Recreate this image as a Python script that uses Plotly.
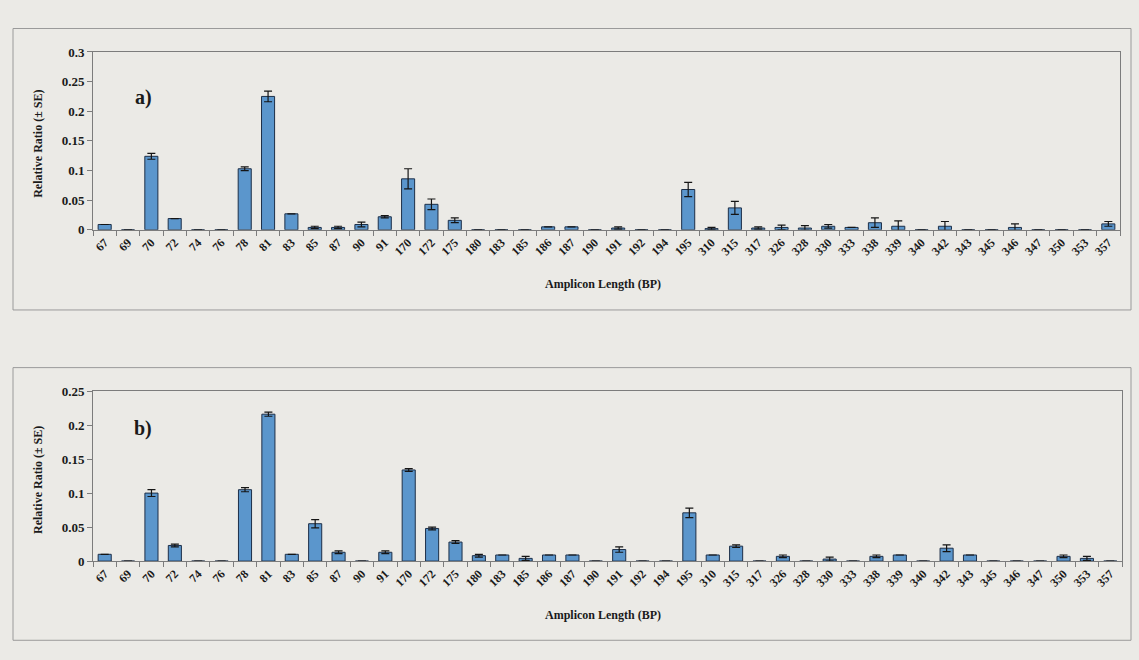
import plotly.graph_objects as go

categories = ["67", "69", "70", "72", "74", "76", "78", "81", "83", "85", "87", "90", "91",
              "170", "172", "175", "180", "183", "185", "186", "187", "190", "191", "192",
              "194", "195", "310", "315", "317", "326", "328", "330", "333", "338", "339",
              "340", "342", "343", "345", "346", "347", "350", "353", "357"]

ratio_a = [0.009, 0, 0.124, 0.019, 0, 0, 0.103, 0.225, 0.027, 0.004, 0.004, 0.009, 0.022,
           0.086, 0.043, 0.016, 0, 0, 0, 0.005, 0.005, 0, 0.003, 0,
           0, 0.068, 0.002, 0.037, 0.003, 0.004, 0.003, 0.006, 0.004, 0.012, 0.006,
           0, 0.006, 0, 0, 0.004, 0, 0, 0, 0.010]
se_a = [0, 0, 0.005, 0, 0, 0, 0.003, 0.009, 0, 0.002, 0.002, 0.004, 0.002,
        0.017, 0.009, 0.004, 0, 0, 0, 0, 0, 0, 0.002, 0,
        0, 0.012, 0.002, 0.011, 0.002, 0.004, 0.004, 0.003, 0, 0.008, 0.009,
        0, 0.008, 0, 0, 0.006, 0, 0, 0, 0.004]

ratio_b = [0.010, 0, 0.100, 0.023, 0, 0, 0.105, 0.216, 0.010, 0.055, 0.013, 0, 0.013,
           0.134, 0.048, 0.028, 0.008, 0.009, 0.004, 0.009, 0.009, 0, 0.017, 0,
           0, 0.071, 0.009, 0.022, 0, 0.007, 0, 0.003, 0, 0.007, 0.009,
           0, 0.019, 0.009, 0, 0, 0, 0.007, 0.004, 0]
se_b = [0, 0, 0.005, 0.002, 0, 0, 0.003, 0.003, 0, 0.006, 0.002, 0, 0.002,
        0.002, 0.002, 0.002, 0.002, 0, 0.003, 0, 0, 0, 0.004, 0,
        0, 0.007, 0, 0.002, 0, 0.002, 0, 0.003, 0, 0.002, 0,
        0, 0.005, 0, 0, 0, 0, 0.002, 0.003, 0]

y_ticks_a = [0, 0.05, 0.1, 0.15, 0.2, 0.25, 0.3]
y_labels_a = ["0", "0.05", "0.1", "0.15", "0.2", "0.25", "0.3"]
y_ticks_b = [0, 0.05, 0.1, 0.15, 0.2, 0.25]
y_labels_b = ["0", "0.05", "0.1", "0.15", "0.2", "0.25"]

FONT = "Liberation Serif"
BG = "#ebeae6"
BAR = "#5b96cc"
BAR_LINE = "#1d2f48"
AXIS = "#7c7c7c"

W, H = 1139, 660


def px(x):
    return x / W


def py(y):
    return 1 - y / H


fig = go.Figure()

for vals, se, xa, ya in [(ratio_a, se_a, "x", "y"), (ratio_b, se_b, "x2", "y2")]:
    fig.add_trace(go.Bar(
        x=categories, y=vals, xaxis=xa, yaxis=ya,
        marker=dict(color=BAR, line=dict(color=BAR_LINE, width=1)),
        error_y=dict(type="data", array=se, visible=True, color="#151515",
                     thickness=1.2, width=4),
        showlegend=False,
    ))

xtick_font = dict(family=FONT, size=12, color="#1a1a1a", weight="bold")
ytick_font = dict(family=FONT, size=13, color="#1a1a1a", weight="bold")

xcommon = dict(type="category", categoryorder="array", categoryarray=categories,
               tickangle=-45, tickfont=xtick_font, showline=True, linecolor=AXIS,
               linewidth=1, mirror=True, ticks="outside", tickson="boundaries",
               ticklen=5, tickcolor=AXIS, showgrid=False, zeroline=False)
ycommon = dict(showline=True, linecolor=AXIS, linewidth=1, mirror=True,
               ticks="outside", ticklen=5, tickcolor=AXIS, showgrid=False,
               zeroline=False, tickfont=ytick_font)

fig.update_layout(
    width=W, height=H,
    margin=dict(l=0, r=0, t=0, b=0),
    paper_bgcolor=BG, plot_bgcolor=BG,
    bargap=0.44,
    xaxis=dict(domain=[px(93), px(1120)], anchor="y", **xcommon),
    yaxis=dict(domain=[py(228), py(46)], anchor="x", range=[0, 0.3],
               tickvals=y_ticks_a, ticktext=y_labels_a, **ycommon),
    xaxis2=dict(domain=[px(93), px(1122)], anchor="y2", **xcommon),
    yaxis2=dict(domain=[py(567), py(393)], anchor="x2", range=[0, 0.25],
                tickvals=y_ticks_b, ticktext=y_labels_b, **ycommon),
)

# Outer chart-area frames
for y0, y1 in [(22, 310), (369, 648)]:
    fig.add_shape(type="rect", xref="paper", yref="paper",
                  x0=px(13), x1=px(1131), y0=py(y1), y1=py(y0),
                  line=dict(color="#9a9a9a", width=1), fillcolor="rgba(0,0,0,0)",
                  layer="below")

title_font = dict(family=FONT, size=12, color="#1a1a1a")
for yc in [140, 484]:
    fig.add_annotation(text="<b>Relative Ratio (± SE)</b>", xref="paper", yref="paper",
                       x=px(38), y=py(yc), textangle=-90, showarrow=False,
                       font=title_font, xanchor="center", yanchor="middle")
for yc in [283, 622]:
    fig.add_annotation(text="<b>Amplicon Length (BP)</b>", xref="paper", yref="paper",
                       x=px(603), y=py(yc), showarrow=False, font=title_font,
                       xanchor="center", yanchor="middle")
for lbl, yc in [("a)", 93), ("b)", 431)]:
    fig.add_annotation(text="<b>" + lbl + "</b>", xref="paper", yref="paper",
                       x=px(143), y=py(yc), showarrow=False,
                       font=dict(family=FONT, size=20, color="#1a1a1a"),
                       xanchor="center", yanchor="middle")

fig.write_html("out.html", config={"displayModeBar": False},
               post_script="document.body.style.margin='0';"
                           "document.body.style.overflow='hidden';")
